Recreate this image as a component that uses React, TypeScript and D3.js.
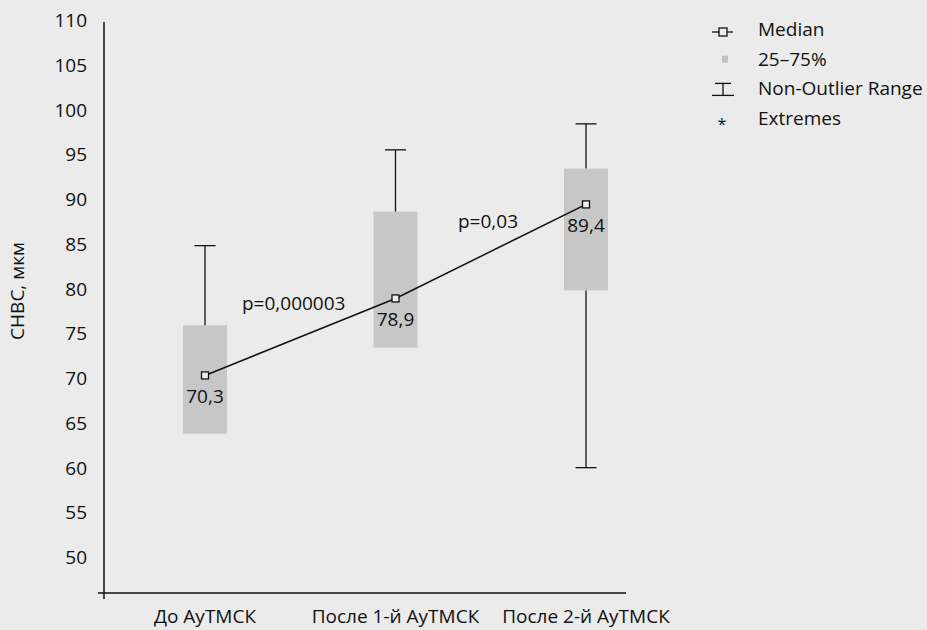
import React from 'react'
import * as d3 from 'd3'

// категории и значения
const categories = ['До АуТМСК', 'После 1-й АуТМСК', 'После 2-й АуТМСК']
const medians = [70.3, 78.9, 89.4]
const q1 = [63.8, 73.4, 79.8]
const q3 = [75.9, 88.6, 93.4]
const whiskerLow = [63.8, 73.4, 60]
const whiskerHigh = [84.8, 95.5, 98.4]
const medianLabels = ['70,3', '78,9', '89,4']
const pLabels = ['p=0,000003', 'p=0,03']
const yTicks = [50, 55, 60, 65, 70, 75, 80, 85, 90, 95, 100, 105, 110]
const legendItems = ['Median', '25–75%', 'Non-Outlier Range', 'Extremes']

const W = 927
const H = 630
const font = '"Open Sans", sans-serif'

const App: React.FC = () => {
    const y = d3.scaleLinear().domain([46, 110]).range([593, 20])
    const x = d3.scalePoint<string>().domain(categories).range([205, 586])

    const axisX = 104
    const axisRight = 626
    const boxW = 44
    const capW = 21

    const pts: [number, number][] = categories.map((c, i) => [x(c)!, y(medians[i])])
    const line = d3.line()

    return (
        <svg
            width={W}
            height={H}
            style={{ position: 'absolute', left: 0, top: 0, background: '#ebebeb' }}
            fontFamily={font}
        >
            {/* оси */}
            <line x1={axisX} x2={axisX} y1={22} y2={599} stroke="#111" strokeWidth={1.5} />
            <line x1={98} x2={axisRight} y1={y(46)} y2={y(46)} stroke="#111" strokeWidth={1.5} />
            {yTicks.map((t) => (
                <text key={t} x={87} y={y(t)} textAnchor="end" dominantBaseline="central" fontSize={19} fill="#111">
                    {t}
                </text>
            ))}
            <text
                transform="translate(17,291) rotate(-90)"
                textAnchor="middle"
                dominantBaseline="central"
                fontSize={19}
                fill="#111"
            >
                СНВС, мкм
            </text>
            {categories.map((c) => (
                <text key={c} x={x(c)} y={623} textAnchor="middle" fontSize={19} fill="#111">
                    {c}
                </text>
            ))}

            {/* ящики */}
            {categories.map((c, i) => {
                const cx = x(c)!
                return (
                    <g key={c}>
                        <rect x={cx - boxW / 2} y={y(q3[i])} width={boxW} height={y(q1[i]) - y(q3[i])} fill="#c7c7c7" />
                        <line x1={cx} x2={cx} y1={y(whiskerHigh[i])} y2={y(q3[i])} stroke="#111" strokeWidth={1.3} />
                        <line x1={cx - capW / 2} x2={cx + capW / 2} y1={y(whiskerHigh[i])} y2={y(whiskerHigh[i])} stroke="#111" strokeWidth={1.3} />
                        {whiskerLow[i] < q1[i] && (
                            <>
                                <line x1={cx} x2={cx} y1={y(q1[i])} y2={y(whiskerLow[i])} stroke="#111" strokeWidth={1.3} />
                                <line x1={cx - capW / 2} x2={cx + capW / 2} y1={y(whiskerLow[i])} y2={y(whiskerLow[i])} stroke="#111" strokeWidth={1.3} />
                            </>
                        )}
                    </g>
                )
            })}

            {/* линия медиан */}
            <path d={line(pts) ?? ''} fill="none" stroke="#111" strokeWidth={1.5} />
            {pts.map(([px, py], i) => (
                <g key={i}>
                    <rect x={px - 3.5} y={py - 3.5} width={7} height={7} fill="#eee" stroke="#111" strokeWidth={1.3} />
                    <text x={px} y={py + 21} textAnchor="middle" dominantBaseline="central" fontSize={19} fill="#111">
                        {medianLabels[i]}
                    </text>
                </g>
            ))}
            <text x={242} y={303} dominantBaseline="central" fontSize={19} fill="#111">
                {pLabels[0]}
            </text>
            <text x={458} y={221} dominantBaseline="central" fontSize={19} fill="#111">
                {pLabels[1]}
            </text>

            {/* легенда */}
            {legendItems.map((item, i) => {
                const ly = 29 + i * 29.7
                return (
                    <g key={item}>
                        {i === 0 && (
                            <>
                                <line x1={712} x2={733} y1={ly + 3} y2={ly + 3} stroke="#111" strokeWidth={1.3} />
                                <rect x={719} y={ly - 1} width={8} height={8} fill="#eee" stroke="#111" strokeWidth={1.3} />
                            </>
                        )}
                        {i === 1 && <rect x={722} y={ly - 3} width={6} height={7} fill="#c2c2c2" />}
                        {i === 2 && (
                            <>
                                <line x1={715} x2={731} y1={ly - 5} y2={ly - 5} stroke="#111" strokeWidth={1.3} />
                                <line x1={723} x2={723} y1={ly - 5} y2={ly + 7} stroke="#111" strokeWidth={1.3} />
                                <line x1={712} x2={734} y1={ly + 7} y2={ly + 7} stroke="#111" strokeWidth={1.3} />
                            </>
                        )}
                        {i === 3 && (
                            <text x={722} y={ly + 6} textAnchor="middle" dominantBaseline="central" fontSize={16} fill="#111">
                                *
                            </text>
                        )}
                        <text x={758} y={ly} dominantBaseline="central" fontSize={19} fill="#111">
                            {item}
                        </text>
                    </g>
                )
            })}
        </svg>
    )
}

export default App
